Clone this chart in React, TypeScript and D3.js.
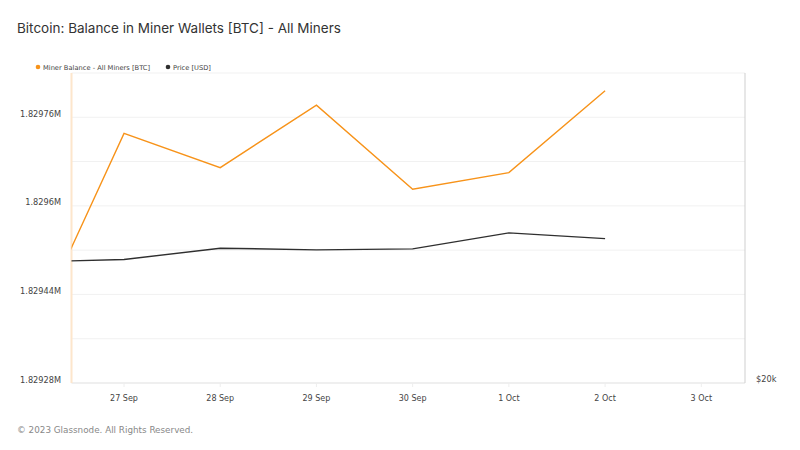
import React from "react";
import * as d3 from "d3";

// daily values (00:00 UTC)
const dates = ["2023-09-26", "2023-09-27", "2023-09-28", "2023-09-29", "2023-09-30", "2023-10-01", "2023-10-02"];
const minerBalance = [1829353, 1829731, 1829669, 1829782, 1829630, 1829660, 1829808];
const price = [26214, 26360, 27036, 26934, 26994, 27976, 27622];

const yTicks = [1829280, 1829360, 1829440, 1829520, 1829600, 1829680, 1829760, 1829840];
const yLabelTicks = [1829280, 1829440, 1829600, 1829760];
const xTickDates = ["2023-09-27", "2023-09-28", "2023-09-29", "2023-09-30", "2023-10-01", "2023-10-02", "2023-10-03"];
const priceDomain = [20000, 40000];
const viewStart = "2023-09-26T10:54:00Z";
const viewEnd = "2023-10-03T10:54:00Z";

const W = 800;
const H = 450;
const margin = { top: 73, right: 55, bottom: 67, left: 71.5 };

const ORANGE = "#f7931a";
const DARK = "#2f2f2f";
const FONT = "DejaVu Sans, sans-serif";

const parse = (s: string) => new Date(s.length === 10 ? s + "T00:00:00Z" : s);

export default function App() {
  const x = d3
    .scaleUtc()
    .domain([parse(viewStart), parse(viewEnd)])
    .range([margin.left, W - margin.right]);
  const y = d3
    .scaleLinear()
    .domain([yTicks[0], yTicks[yTicks.length - 1]])
    .range([H - margin.bottom, margin.top]);
  const yPrice = d3
    .scaleLog()
    .domain(priceDomain)
    .range([H - margin.bottom, margin.top]);

  const rows = dates.map((d, i) => ({ date: parse(d), bal: minerBalance[i], price: price[i] }));

  const balLine = d3
    .line<any>()
    .x((d) => x(d.date))
    .y((d) => y(d.bal));
  const priceLine = d3
    .line<any>()
    .x((d) => x(d.date))
    .y((d) => yPrice(d.price));

  const fmt = (v: number) => (v / 1e6).toString() + "M";
  const x0 = margin.left;
  const x1 = W - margin.right;
  const yBottom = H - margin.bottom;

  return (
    <svg
      width={W}
      height={H}
      style={{ position: "absolute", left: 0, top: 0, background: "#fff" }}
      fontFamily={FONT}
    >
      <defs>
        <clipPath id="plot">
          <rect x={x0} y={margin.top - 5} width={x1 - x0} height={yBottom - margin.top + 5} />
        </clipPath>
      </defs>

      <text x={17} y={33} fontFamily="Inter, sans-serif" fontSize={13.5} fill="#333">
        Bitcoin: Balance in Miner Wallets [BTC] - All Miners
      </text>

      {/* legend */}
      <circle cx={38} cy={67} r={2.3} fill={ORANGE} />
      <text x={43} y={69.5} fontSize={6.7} fill="#444">
        Miner Balance - All Miners [BTC]
      </text>
      <circle cx={168} cy={67} r={2.3} fill={DARK} />
      <text x={173} y={69.5} fontSize={6.7} fill="#444">
        Price [USD]
      </text>

      {/* grid */}
      {yTicks.map((t) => (
        <line key={t} x1={x0} x2={x1} y1={y(t)} y2={y(t)} stroke="#f1f1f1" strokeWidth={1} />
      ))}
      {yLabelTicks.map((t) => (
        <text key={t} x={61} y={y(t) - 0.5} textAnchor="end" fontSize={8.2} fill="#444">
          {fmt(t)}
        </text>
      ))}

      {/* x axis */}
      <line x1={x0} x2={x1} y1={yBottom} y2={yBottom} stroke="#e6e6e6" />
      {xTickDates.map((d) => {
        const px = x(parse(d));
        return (
          <g key={d}>
            <line x1={px} x2={px} y1={yBottom} y2={yBottom + 4} stroke="#eeeeee" />
            <text x={px} y={yBottom + 18} textAnchor="middle" fontSize={8} fill="#444">
              {d3.utcFormat("%-d %b")(parse(d))}
            </text>
          </g>
        );
      })}

      {/* left / right axis lines */}
      <line x1={x0} x2={x0} y1={margin.top} y2={yBottom} stroke="#fde6cc" strokeWidth={2} />
      <line x1={x1} x2={x1} y1={margin.top} y2={yBottom} stroke="#cfcfcf" strokeWidth={1} />
      <text x={756} y={yBottom - 1} fontSize={8.2} fill="#444">
        {"$" + d3.format("~s")(priceDomain[0])}
      </text>

      <g clipPath="url(#plot)">
        <path d={priceLine(rows) || ""} fill="none" stroke={DARK} strokeWidth={1.4} />
        <path d={balLine(rows) || ""} fill="none" stroke={ORANGE} strokeWidth={1.4} />
      </g>

      <text x={17} y={433} fontSize={8.8} fill="#888">
        © 2023 Glassnode. All Rights Reserved.
      </text>
    </svg>
  );
}
